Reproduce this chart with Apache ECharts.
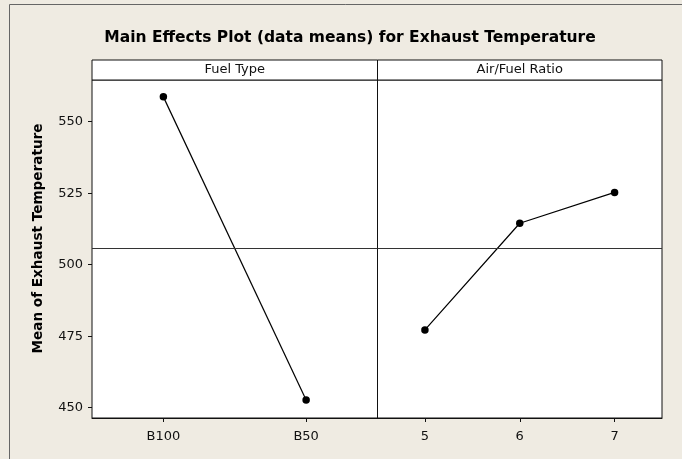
<!DOCTYPE html>
<html>
<head>
<meta charset="utf-8">
<script src="https://cdn.jsdelivr.net/npm/echarts@6/dist/echarts.min.js"></script>
<style>
html,body{margin:0;padding:0;background:#EFEBE2;}
#main{width:682px;height:459px;}
</style>
</head>
<body>
<div id="main"></div>
<script>
const titleText = 'Main Effects Plot (data means) for Exhaust Temperature';
const yAxisTitle = 'Mean of Exhaust Temperature';
const panelTitles = ['Fuel Type', 'Air/Fuel Ratio'];
const fuelTypes = ['B100', 'B50'];
const fuelMeans = [558.7, 452.7];
const afrLevels = ['5', '6', '7'];
const afrMeans = [477.2, 514.5, 525.3];
const grandMean = 505.7;
const yTicks = [450, 475, 500, 525, 550];
const yMin = 446.4, yMax = 564.6;

const FONT = 'DejaVu Sans';
const chart = echarts.init(document.getElementById('main'), null, {renderer: 'canvas'});

const L1 = 92, R1 = 377.5, R2 = 662, TOP = 80, BOT = 418, HTOP = 60;

function xAxisFor(idx, cats) {
  return {
    type: 'category', gridIndex: idx, data: cats, boundaryGap: true,
    axisLine: {show: true, lineStyle: {color: '#111', width: 1}},
    axisTick: {show: true, alignWithLabel: true, length: 4, inside: false, lineStyle: {color: '#111'}},
    axisLabel: {fontFamily: FONT, fontSize: 13, color: '#111', margin: 12},
    splitLine: {show: false}
  };
}
function yAxisFor(idx, show) {
  return {
    type: 'value', gridIndex: idx, min: yMin, max: yMax,
    axisLine: {show: false},
    axisTick: {show: show, length: 4, lineStyle: {color: '#111'}, customValues: yTicks},
    axisLabel: {show: show, fontFamily: FONT, fontSize: 13, color: '#111', margin: 9, customValues: yTicks},
    splitLine: {show: false}
  };
}
const meanLine = {
  silent: true, symbol: 'none', label: {show: false},
  lineStyle: {color: '#333', type: 'solid', width: 1},
  data: [{yAxis: grandMean}]
};
const seriesStyle = {
  type: 'line', symbol: 'circle', symbolSize: 7.5,
  itemStyle: {color: '#000'}, lineStyle: {color: '#000', width: 1.2},
  animation: false
};

chart.setOption({
  backgroundColor: '#EFEBE2',
  animation: false,
  grid: [
    {left: L1, top: TOP, width: R1 - L1, height: BOT - TOP, show: true, backgroundColor: '#fff', borderColor: '#111', borderWidth: 1},
    {left: R1, top: TOP, width: R2 - R1, height: BOT - TOP, show: true, backgroundColor: '#fff', borderColor: '#111', borderWidth: 1}
  ],
  xAxis: [xAxisFor(0, fuelTypes), xAxisFor(1, afrLevels)],
  yAxis: [yAxisFor(0, true), yAxisFor(1, false)],
  series: [
    Object.assign({}, seriesStyle, {name: panelTitles[0], xAxisIndex: 0, yAxisIndex: 0, data: fuelMeans, markLine: meanLine}),
    Object.assign({}, seriesStyle, {name: panelTitles[1], xAxisIndex: 1, yAxisIndex: 1, data: afrMeans, markLine: meanLine})
  ],
  graphic: [
    {type: 'line', shape: {x1: 9.5, y1: 4.5, x2: 682, y2: 4.5}, style: {stroke: '#666', lineWidth: 1}},
    {type: 'line', shape: {x1: 9.5, y1: 4.5, x2: 9.5, y2: 459}, style: {stroke: '#666', lineWidth: 1}},
    {type: 'text', x: 350, y: 38, style: {text: titleText, fontFamily: FONT, fontWeight: 'bold', fontSize: 15.5, fill: '#000', align: 'center', verticalAlign: 'middle'}},
    {type: 'rect', shape: {x: L1, y: HTOP, width: R1 - L1, height: TOP - HTOP}, style: {fill: '#fff', stroke: '#111', lineWidth: 1}},
    {type: 'rect', shape: {x: R1, y: HTOP, width: R2 - R1, height: TOP - HTOP}, style: {fill: '#fff', stroke: '#111', lineWidth: 1}},
    {type: 'text', x: (L1 + R1) / 2, y: (HTOP + TOP) / 2, style: {text: panelTitles[0], fontFamily: FONT, fontSize: 13, fill: '#111', align: 'center', verticalAlign: 'middle'}},
    {type: 'text', x: (R1 + R2) / 2, y: (HTOP + TOP) / 2, style: {text: panelTitles[1], fontFamily: FONT, fontSize: 13, fill: '#111', align: 'center', verticalAlign: 'middle'}},
    {type: 'text', x: 38, y: 238.5, rotation: Math.PI / 2, style: {text: yAxisTitle, fontFamily: FONT, fontWeight: 'bold', fontSize: 13.6, fill: '#000', align: 'center', verticalAlign: 'middle'}}
  ]
});
</script>
</body>
</html>
